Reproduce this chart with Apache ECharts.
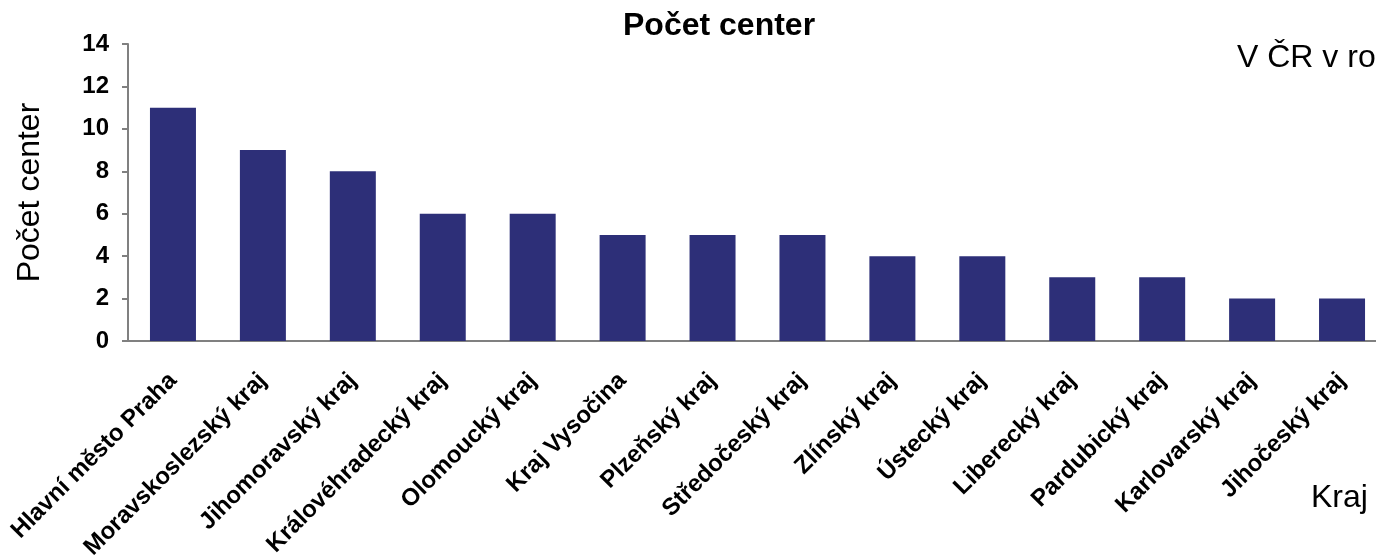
<!DOCTYPE html>
<html>
<head>
<meta charset="utf-8">
<script src="https://cdn.jsdelivr.net/npm/echarts@6/dist/echarts.min.js"></script>
<style>
  html, body { margin: 0; padding: 0; background: #fff; }
  #chart { width: 1376px; height: 556px; }
</style>
</head>
<body>
<div id="chart"></div>
<script>
  // kraje a počty center
  var kraje = ['Hlavní město Praha', 'Moravskoslezský kraj', 'Jihomoravský kraj', 'Královéhradecký kraj',
    'Olomoucký kraj', 'Kraj Vysočina', 'Plzeňský kraj', 'Středočeský kraj', 'Zlínský kraj',
    'Ústecký kraj', 'Liberecký kraj', 'Pardubický kraj', 'Karlovarský kraj', 'Jihočeský kraj'];
  var pocty = [11, 9, 8, 6, 6, 5, 5, 5, 4, 4, 3, 3, 2, 2];
  var yTicks = {min: 0, max: 14, interval: 2};

  var font = 'Liberation Sans, Arial, sans-serif';
  var chart = echarts.init(document.getElementById('chart'));
  var option = {
    backgroundColor: '#fff',
    animation: false,
    title: {
      text: 'Počet center',
      left: 618,
      top: 5,
      textStyle: {fontFamily: font, fontSize: 32, fontWeight: 'bold', color: '#000'}
    },
    grid: {left: 128, top: 44, width: 1259, height: 297, containLabel: false, outerBoundsMode: 'none'},
    graphic: [
      {type: 'text', left: 1237, top: 42, style: {text: 'V ČR v ro', font: '32px ' + font, fill: '#000'}},
      {type: 'text', left: 1311, top: 482, style: {text: 'Kraj', font: '32px ' + font, fill: '#000'}}
    ],
    xAxis: {
      type: 'category',
      data: kraje,
      boundaryGap: true,
      axisLine: {lineStyle: {color: '#808080', width: 2}},
      axisTick: {length: 7, lineStyle: {color: '#808080', width: 2}},
      axisLabel: {
        interval: 0,
        rotate: 45,
        margin: 36,
        fontFamily: font,
        fontSize: 24,
        fontWeight: 'bold',
        color: '#000'
      },
      splitLine: {show: false}
    },
    yAxis: {
      type: 'value',
      min: yTicks.min,
      max: yTicks.max,
      interval: yTicks.interval,
      name: 'Počet center',
      nameLocation: 'middle',
      nameGap: 82,
      nameTextStyle: {fontFamily: font, fontSize: 32, color: '#000'},
      axisLine: {show: true, lineStyle: {color: '#808080', width: 2}},
      axisTick: {show: true, length: 6, lineStyle: {color: '#808080', width: 2}},
      axisLabel: {margin: 19, fontFamily: font, fontSize: 24, fontWeight: 'bold', color: '#000'},
      splitLine: {show: false}
    },
    series: [{
      type: 'bar',
      data: pocty,
      barWidth: 46,
      itemStyle: {color: '#2d2f78'}
    }]
  };
  chart.setOption(option);
</script>
</body>
</html>
